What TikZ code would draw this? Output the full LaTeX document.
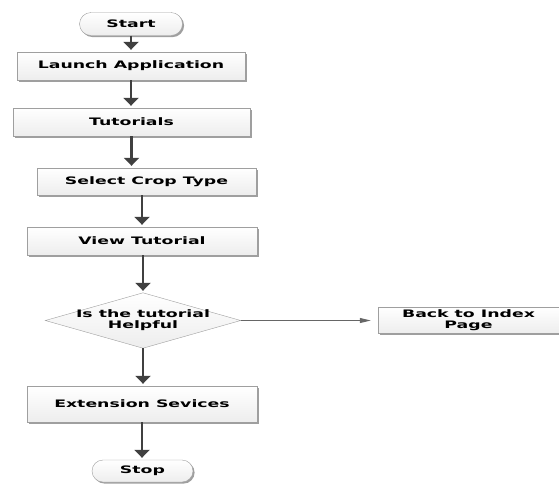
\documentclass[tikz,border=0pt]{standalone}
\usepackage{fontspec}
\setmainfont{DejaVu Sans}
\newfontfamily\lblfont{DejaVu Sans}[FakeStretch=1.68]
\usetikzlibrary{shapes.geometric,shapes.misc,shadows,arrows.meta}
\begin{document}
\begin{tikzpicture}[x=1pt,y=-1pt,
  lbl/.style={font=\lblfont\bfseries\fontsize{10.3}{11}\selectfont, align=center, inner sep=0pt},
  boxfill/.style={draw=gray!75, top color=white, bottom color=gray!14,
    drop shadow={shadow xshift=1.6pt, shadow yshift=-1.6pt, fill=gray!75, opacity=1}},
  procbox/.style={lbl, boxfill, rectangle},
  term/.style={lbl, boxfill, rounded rectangle},
  decis/.style={lbl, rectangle},
  decisshape/.style={draw=gray!75, top color=white, bottom color=gray!14},
  flow/.style={draw=black!75, line width=2.7pt, -{Triangle[length=8pt,width=15pt]}},
  side/.style={draw=gray!80!black, line width=1pt, -{Triangle[length=11pt,width=5pt]}}]
\useasboundingbox (0,0) rectangle (559,483);

\node[term, minimum width=103pt, minimum height=23pt] (start) at (131,24) {Start};
\node[procbox, minimum width=228pt, minimum height=28pt] (launch) at (131,66) {Launch Application};
\node[procbox, minimum width=237pt, minimum height=28pt] (tut) at (131.5,122) {Tutorials};
\node[procbox, minimum width=219pt, minimum height=27pt] (crop) at (146.5,181.5) {Select Crop Type};
\node[procbox, minimum width=230pt, minimum height=28pt] (view) at (142,241) {View Tutorial};
\node[decis, minimum width=195pt, minimum height=55pt] (help) at (143,320.5) {};
\path[decisshape] (help.north) -- (help.east) -- (help.south) -- (help.west) -- cycle;
\node[lbl] (helptxt) at (help.center) {Is the tutorial\\Helpful};
\node[procbox, minimum width=181pt, minimum height=26pt] (back) at (468.5,320) {Back to Index\\Page};
\node[procbox, minimum width=230pt, minimum height=36pt] (ext) at (142,404) {Extension Sevices};
\node[term, minimum width=101pt, minimum height=22pt] (stop) at (142.5,471) {Stop};

\draw[flow] (start.south) -- ([yshift=2pt]start.south |- launch.north);
\draw[flow] (launch.south) -- ([yshift=2pt]launch.south |- tut.north);
\draw[flow] (tut.south) -- ([yshift=2pt]tut.south |- crop.north);
\draw[flow] (view.north |- crop.south) -- ([yshift=2pt]view.north);
\draw[flow] (help.north |- view.south) -- ([yshift=2pt]help.north);
\draw[flow] (help.south) -- ([yshift=2pt]help.south |- ext.north);
\draw[flow] (ext.south) -- ([yshift=2pt]ext.south |- stop.north);
\draw[side] (help.east) -- ([xshift=-7pt]back.west |- help.east);
\end{tikzpicture}
\end{document}
